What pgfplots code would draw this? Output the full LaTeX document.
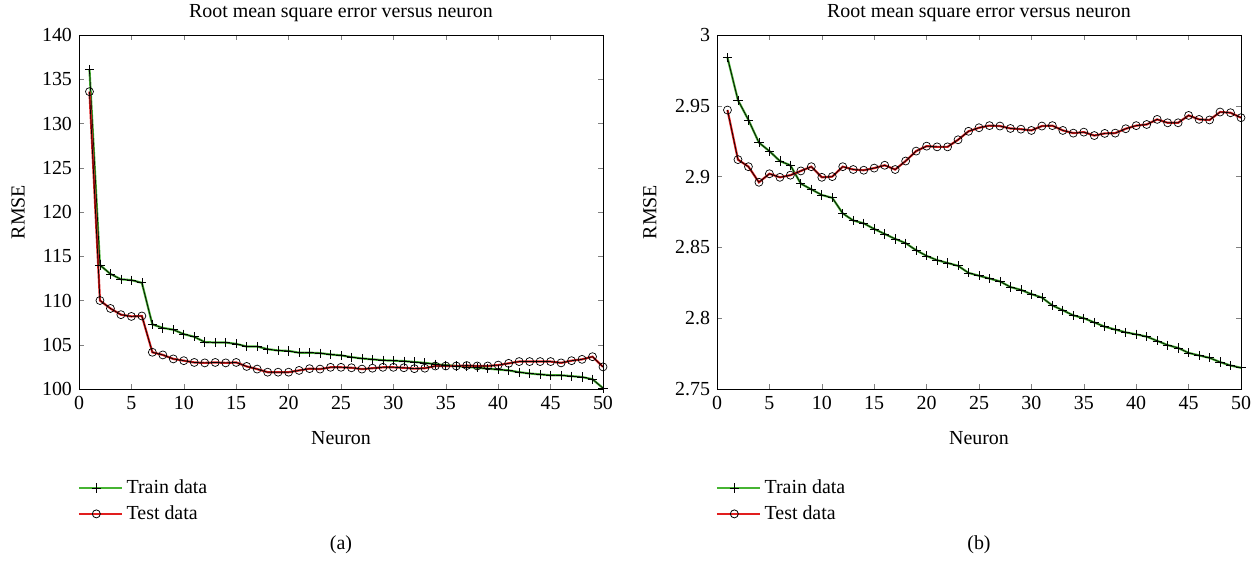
\documentclass[border=0pt]{standalone}
\usepackage{fontspec}
\setmainfont{Liberation Serif}
\usepackage{pgfplots}
\pgfplotsset{compat=1.18}
\usepackage{pgfplotstable}

\definecolor{traingreen}{RGB}{70,180,50}
\definecolor{testred}{RGB}{225,30,30}

% panel (a)
\pgfplotstableread{
x y
1 136.1
2 114.0
3 113.0
4 112.4
5 112.3
6 112.0
7 107.3
8 106.9
9 106.7
10 106.2
11 105.9
12 105.3
13 105.25
14 105.25
15 105.1
16 104.8
17 104.8
18 104.5
19 104.35
20 104.3
21 104.1
22 104.1
23 104.05
24 103.9
25 103.8
26 103.6
27 103.45
28 103.35
29 103.25
30 103.2
31 103.15
32 103.05
33 102.95
34 102.8
35 102.7
36 102.6
37 102.5
38 102.4
39 102.3
40 102.2
41 102.1
42 101.9
43 101.75
44 101.65
45 101.55
46 101.55
47 101.45
48 101.35
49 101.1
50 100.1
}\trainA

\pgfplotstableread{
x y
1 133.6
2 110.0
3 109.1
4 108.4
5 108.2
6 108.25
7 104.15
8 103.85
9 103.4
10 103.2
11 103.0
12 102.95
13 103.0
14 102.95
15 103.0
16 102.55
17 102.25
18 101.9
19 101.9
20 101.9
21 102.1
22 102.3
23 102.25
24 102.45
25 102.45
26 102.4
27 102.25
28 102.35
29 102.45
30 102.45
31 102.4
32 102.3
33 102.35
34 102.6
35 102.6
36 102.6
37 102.65
38 102.6
39 102.6
40 102.7
41 102.9
42 103.1
43 103.1
44 103.1
45 103.1
46 102.95
47 103.2
48 103.35
49 103.65
50 102.5
}\testA

% panel (b)
\pgfplotstableread{
x y
1 2.984
2 2.954
3 2.940
4 2.924
5 2.918
6 2.911
7 2.908
8 2.895
9 2.891
10 2.887
11 2.885
12 2.874
13 2.869
14 2.867
15 2.863
16 2.8595
17 2.856
18 2.853
19 2.848
20 2.844
21 2.841
22 2.839
23 2.837
24 2.832
25 2.830
26 2.828
27 2.826
28 2.822
29 2.820
30 2.817
31 2.8146
32 2.809
33 2.8056
34 2.802
35 2.800
36 2.797
37 2.794
38 2.792
39 2.790
40 2.7886
41 2.787
42 2.784
43 2.781
44 2.779
45 2.7755
46 2.7737
47 2.772
48 2.769
49 2.7666
50 2.765
}\trainB

\pgfplotstableread{
x y
1 2.947
2 2.912
3 2.907
4 2.896
5 2.902
6 2.8995
7 2.901
8 2.904
9 2.907
10 2.8995
11 2.900
12 2.907
13 2.905
14 2.9045
15 2.906
16 2.908
17 2.905
18 2.911
19 2.918
20 2.9215
21 2.921
22 2.921
23 2.926
24 2.932
25 2.9345
26 2.936
27 2.9357
28 2.934
29 2.9335
30 2.9326
31 2.9357
32 2.936
33 2.9326
34 2.9307
35 2.9314
36 2.929
37 2.9305
38 2.9307
39 2.9338
40 2.936
41 2.9368
42 2.9404
43 2.938
44 2.938
45 2.9432
46 2.9404
47 2.940
48 2.9456
49 2.9451
50 2.9416
}\testB

\pgfplotsset{
  rmse/.style={
    scale only axis, width=262bp, height=177bp,
    xmin=0, xmax=50, xtick={0,5,...,50},
    tick align=inside, tick pos=both, major tick length=2.5bp,
    /pgf/number format/assume math mode=true,
    tick label style={font=\fontsize{10}{12}\selectfont},
    label style={font=\fontsize{10}{12}\selectfont},
    every axis title shift=0pt,
    title style={font=\fontsize{10}{12}\selectfont, at={(axis description cs:0.5,1.062)}, anchor=center},
    title={Root mean square error versus neuron},
    xlabel={Neuron}, ylabel={RMSE},
    xlabel style={at={(axis description cs:0.5,-0.138)}, anchor=center},
    legend style={at={(axis description cs:-0.014,-0.232)}, anchor=north west,
      draw=none, fill=none, font=\fontsize{10}{12}\selectfont, row sep=0.6bp},
    legend cell align=left,
  },
  trainline/.style={traingreen, line width=1.1pt, forget plot},
  trainmark/.style={black, line width=0.35pt, mark=+, mark size=2.3bp, forget plot},
  testline/.style={testred, line width=1.1pt, forget plot},
  testmark/.style={black, line width=0.35pt, mark=o, mark size=2bp, forget plot},
  legline/.style={
    legend image code/.code={
      \draw[mark repeat=2, mark phase=2] plot coordinates {(0bp,0bp) (8.75bp,0bp) (17.5bp,0bp)};
      \path (17.5bp,0bp) -- (21.5bp,0bp);
    }},
  trainleg/.style={legline, traingreen, line width=0.8pt, mark=+, mark options={draw=black, line width=0.4pt}, mark size=2.3bp},
  testleg/.style={legline, testred, line width=0.8pt, mark=o, mark options={draw=black, line width=0.4pt}, mark size=2bp},
}

\begin{document}
\begin{tikzpicture}
\useasboundingbox (0,0) rectangle (630bp,282.5bp);

\begin{axis}[rmse, at={(39.5bp,88bp)}, anchor=south west,
  ymin=100, ymax=140, ytick={100,105,...,140},
  ylabel style={at={(axis description cs:-0.116,0.5)}, anchor=center}]
\addplot[trainline] table {\trainA};
\addplot[trainmark] table {\trainA};
\addplot[testline] table {\testA};
\addplot[testmark] table {\testA};
\addlegendimage{trainleg}
\addlegendentry{Train data}
\addlegendimage{testleg}
\addlegendentry{Test data}
\end{axis}

\begin{axis}[rmse, at={(358.5bp,88bp)}, anchor=south west,
  ymin=2.75, ymax=3, ytick={2.75,2.8,2.85,2.9,2.95,3},
  ylabel style={at={(axis description cs:-0.128,0.5)}, anchor=center}]
\addplot[trainline] table {\trainB};
\addplot[trainmark] table {\trainB};
\addplot[testline] table {\testB};
\addplot[testmark] table {\testB};
\addlegendimage{trainleg}
\addlegendentry{Train data}
\addlegendimage{testleg}
\addlegendentry{Test data}
\end{axis}

\node[font=\fontsize{10}{12}\selectfont] at (170.5bp,10bp) {(a)};
\node[font=\fontsize{10}{12}\selectfont] at (489.5bp,10bp) {(b)};
\end{tikzpicture}
\end{document}
